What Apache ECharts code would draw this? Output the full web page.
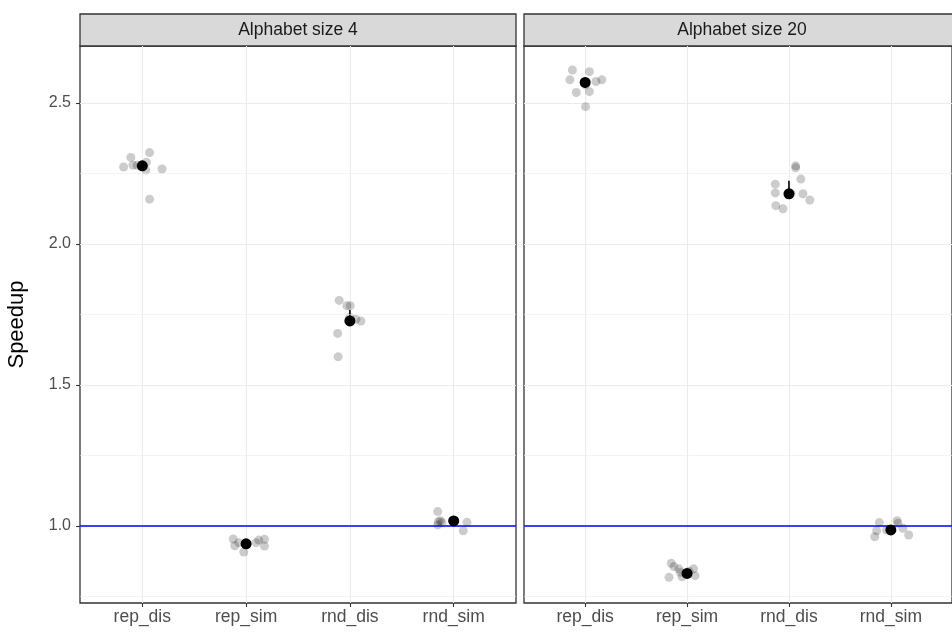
<!DOCTYPE html>
<html>
<head>
<meta charset="utf-8">
<script src="https://cdn.jsdelivr.net/npm/echarts@6/dist/echarts.min.js"></script>
<style>
html,body{margin:0;padding:0;background:#fff;}
#chart{width:952px;height:634px;}
</style>
</head>
<body>
<div id="chart"></div>
<script>
// ---- data ----
const categories = ['rep_dis', 'rep_sim', 'rnd_dis', 'rnd_sim'];
const panelTitles = ['Alphabet size 4', 'Alphabet size 20'];
const yTicks = [1.0, 1.5, 2.0, 2.5];
const yMinor = [0.75, 1.25, 1.75, 2.25];
const refLine = 1.0;

// raw runs: [jitter offset (category units), speedup]
const a4_rep_dis = [[-0.11,2.307],[0.07,2.324],[-0.18,2.273],[-0.09,2.279],[-0.05,2.279],[0.04,2.290],[0.035,2.262],[0.19,2.266],[0.07,2.159]];
const a4_rep_sim = [[-0.124,0.954],[-0.109,0.930],[-0.070,0.941],[-0.022,0.908],[0.097,0.941],[0.122,0.950],[0.177,0.953],[0.177,0.929],[0.0,0.935]];
const a4_rnd_dis = [[-0.103,1.800],[-0.029,1.781],[0.003,1.781],[0.058,1.733],[0.106,1.727],[-0.118,1.683],[-0.113,1.600],[0.0,1.740]];
const a4_rnd_sim = [[-0.154,1.051],[-0.148,1.015],[-0.154,1.004],[-0.129,1.019],[0.128,1.013],[0.092,0.983],[-0.113,1.012],[-0.01,1.020]];

const a20_rep_dis = [[-0.125,2.617],[-0.15,2.582],[0.042,2.611],[0.004,2.564],[0.106,2.576],[0.164,2.582],[-0.087,2.537],[0.042,2.540],[0.004,2.487]];
const a20_rep_sim = [[-0.155,0.868],[-0.129,0.856],[-0.081,0.848],[-0.066,0.836],[0.064,0.848],[0.079,0.824],[-0.177,0.818],[-0.049,0.820],[0.02,0.840]];
const a20_rnd_dis = [[0.066,2.277],[0.066,2.270],[0.117,2.230],[-0.134,2.212],[-0.134,2.181],[0.137,2.178],[0.204,2.156],[-0.129,2.136],[-0.059,2.125],[0.02,2.180]];
const a20_rnd_sim = [[-0.113,1.012],[-0.139,0.983],[-0.158,0.962],[-0.042,0.986],[0.061,1.019],[0.070,1.010],[0.118,0.992],[0.175,0.968]];

// summary: mean and interval
const a4Mean = [2.277, 0.937, 1.727, 1.018];
const a4Low  = [2.267, 0.927, 1.712, 1.008];
const a4High = [2.287, 0.947, 1.766, 1.028];
const a20Mean = [2.573, 0.832, 2.178, 0.986];
const a20Low  = [2.553, 0.822, 2.166, 0.976];
const a20High = [2.587, 0.842, 2.224, 0.996];

// ---- build ----
const FONT = "'Liberation Sans', Arial, Helvetica, sans-serif";
const panelRaw = [
  [a4_rep_dis, a4_rep_sim, a4_rnd_dis, a4_rnd_sim],
  [a20_rep_dis, a20_rep_sim, a20_rnd_dis, a20_rnd_sim]
];
const panelMean = [a4Mean, a20Mean];
const panelLow = [a4Low, a20Low];
const panelHigh = [a4High, a20High];

const GRID_TOP = 46, GRID_H = 557, GRID_W = 436;
const gridLefts = [80, 524];

const grids = gridLefts.map(l => ({
  left: l, top: GRID_TOP, width: GRID_W, height: GRID_H,
  show: true, borderColor: '#333333', borderWidth: 1.3, backgroundColor: 'transparent'
}));

const xAxes = [0, 1].map(i => ({
  type: 'value', gridIndex: i, min: 0.4, max: 4.6,
  axisLine: { show: false },
  axisTick: { show: true, customValues: [1, 2, 3, 4], length: 4, lineStyle: { color: '#333333', width: 1.1 } },
  axisLabel: { show: true, customValues: [1, 2, 3, 4], formatter: v => categories[Math.round(v) - 1] || '',
    color: '#4d4d4d', fontSize: 17.5, fontFamily: FONT, margin: 5 },
  splitLine: { show: true, lineStyle: { color: '#ebebeb', width: 1.1 } }
}));

const yAxes = [0, 1].map(i => ({
  type: 'value', gridIndex: i, min: 0.727, max: 2.702,
  name: i === 0 ? 'Speedup' : '', nameLocation: 'middle', nameGap: 52,
  nameTextStyle: { color: '#000', fontSize: 22, fontFamily: FONT },
  axisLine: { show: false },
  axisTick: { show: i === 0, customValues: yTicks, length: 4, lineStyle: { color: '#333333', width: 1.1 } },
  axisLabel: { show: i === 0, customValues: yTicks, formatter: v => v.toFixed(1),
    color: '#4d4d4d', fontSize: 16, fontFamily: FONT, margin: 9 },
  splitLine: { show: true, lineStyle: { color: '#ebebeb', width: 1.1 } }
}));

const series = [];
[0, 1].forEach(p => {
  // minor grid lines
  series.push({
    type: 'scatter', xAxisIndex: p, yAxisIndex: p, data: [], silent: true, z: 0,
    markLine: { silent: true, symbol: 'none', label: { show: false }, animation: false,
      lineStyle: { color: '#ebebeb', width: 0.6, type: 'solid' },
      data: yMinor.map(v => ({ yAxis: v })) }
  });
  // raw jittered points
  const raw = [];
  panelRaw[p].forEach((arr, ci) => arr.forEach(d => raw.push([ci + 1 + d[0], d[1]])));
  series.push({
    type: 'scatter', xAxisIndex: p, yAxisIndex: p, data: raw, symbolSize: 9, z: 2,
    itemStyle: { color: 'rgba(0,0,0,0.2)', opacity: 1 }, silent: true
  });
  // reference line
  series.push({
    type: 'scatter', xAxisIndex: p, yAxisIndex: p, data: [], silent: true, z: 3,
    markLine: { silent: true, symbol: 'none', label: { show: false }, animation: false,
      lineStyle: { color: '#0000ff', width: 1.7, type: 'solid', opacity: 1 },
      data: [{ yAxis: refLine }] }
  });
  // error bars
  const eb = categories.map((c, ci) => [ci + 1, panelLow[p][ci], panelHigh[p][ci]]);
  series.push({
    type: 'custom', xAxisIndex: p, yAxisIndex: p, data: eb, z: 4, silent: true,
    renderItem: (params, api) => {
      const a = api.coord([api.value(0), api.value(1)]);
      const b = api.coord([api.value(0), api.value(2)]);
      return { type: 'line', shape: { x1: a[0], y1: a[1], x2: b[0], y2: b[1] },
        style: { stroke: '#000', lineWidth: 1.6 } };
    },
    encode: { x: 0, y: [1, 2] }
  });
  // means
  series.push({
    type: 'scatter', xAxisIndex: p, yAxisIndex: p, z: 5, silent: true,
    data: categories.map((c, ci) => [ci + 1, panelMean[p][ci]]),
    symbolSize: 11, itemStyle: { color: '#000', opacity: 1 }
  });
});

const graphics = [];
gridLefts.forEach((l, i) => {
  graphics.push({ type: 'rect', shape: { x: l, y: 14, width: GRID_W, height: GRID_TOP - 14 },
    style: { fill: '#d9d9d9', stroke: '#333333', lineWidth: 1.3 }, silent: true });
  graphics.push({ type: 'text', x: l + GRID_W / 2, y: 30,
    style: { text: panelTitles[i], fill: '#1a1a1a', fontSize: 17.5, fontFamily: FONT,
      textAlign: 'center', textVerticalAlign: 'middle' }, silent: true });
});

const chart = echarts.init(document.getElementById('chart'), null, { renderer: 'canvas' });
chart.setOption({
  animation: false,
  backgroundColor: '#ffffff',
  grid: grids,
  xAxis: xAxes,
  yAxis: yAxes,
  series: series,
  graphic: graphics
});
</script>
</body>
</html>
